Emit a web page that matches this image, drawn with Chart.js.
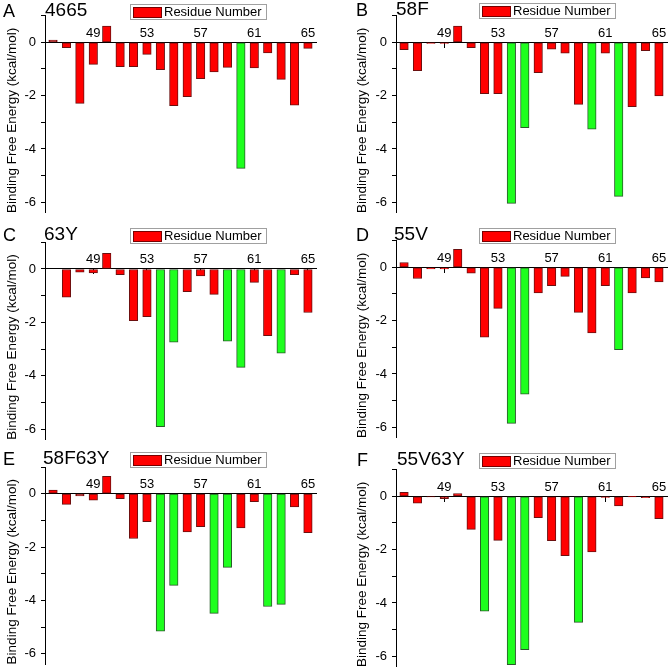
<!DOCTYPE html>
<html>
<head>
<meta charset="utf-8">
<script src="https://cdn.jsdelivr.net/npm/chart.js@4.4.1/dist/chart.umd.min.js"></script>
<style>
  body { margin: 0; background: #fff; font-family: "Liberation Sans", Arial, sans-serif; }
  #wrap { position: relative; width: 668px; height: 671px; overflow: hidden; }
  canvas { position: absolute; }
  .lbl { position: absolute; font-size: 18px; line-height: 18px; color: #000; white-space: nowrap; }
  .ttl { font-size: 19px; }
  .legend { position: absolute; width: 135px; height: 14px; border: 1px solid #a0a0a0; background: #fff; font-size: 13px; line-height: 14px; white-space: nowrap; }
  .legend span.sw { position: absolute; left: 2px; top: 2px; width: 27px; height: 9px; background: #ff0000; border: 1px solid #700; }
  .legend span.tx { position: absolute; left: 33px; top: 0; }
</style>
</head>
<body>
<div id="wrap"></div>
<script>
// residues 46-65, binding free energy per residue (kcal/mol)
const residues = [46, 47, 48, 49, 50, 51, 52, 53, 54, 55, 56, 57, 58, 59, 60, 61, 62, 63, 64, 65];
const xTickValues = [49, 53, 57, 61, 65];
const yTickValues = [-6, -5, -4, -3, -2, -1, 0, 1];
const seriesLabel = 'Residue Number';
const yTitle = 'Binding Free Energy (kcal/mol)';

const energy4665 = [0.08, -0.2, -2.29, -0.83, 0.61, -0.91, -0.91, -0.45, -1.03, -2.38, -2.04, -1.36, -1.11, -0.94, -4.73, -0.96, -0.4, -1.39, -2.36, -0.23];
const hot4665 = [60];

const energy58F = [-0.28, -1.06, -0.04, -0.04, 0.61, -0.2, -1.93, -1.93, -6.04, -3.2, -1.14, -0.26, -0.41, -2.33, -3.26, -0.41, -5.78, -2.41, -0.31, -2.01];
const hot58F = [54, 55, 60, 62];

const energy63Y = [0, -1.06, -0.12, -0.15, 0.59, -0.21, -1.94, -1.79, -5.91, -2.74, -0.85, -0.26, -0.95, -2.71, -3.69, -0.5, -2.5, -3.16, -0.21, -1.63];
const hot63Y = [54, 55, 59, 60, 63];

const energy55V = [0.18, -0.42, -0.06, -0.06, 0.67, -0.22, -2.62, -1.54, -5.85, -4.76, -0.96, -0.69, -0.34, -1.69, -2.46, -0.69, -3.09, -0.96, -0.4, -0.55];
const hot55V = [54, 55, 62];

const energy58F63Y = [0.14, -0.4, -0.08, -0.24, 0.65, -0.19, -1.68, -1.05, -5.15, -3.44, -1.43, -1.24, -4.49, -2.76, -1.28, -0.3, -4.23, -4.15, -0.5, -1.46];
const hot58F63Y = [54, 55, 58, 59, 62, 63];

const energy55V63Y = [0.15, -0.26, -0.02, -0.09, 0.1, -1.24, -4.31, -1.65, -6.31, -5.75, -0.8, -1.66, -2.23, -4.73, -2.09, -0.04, -0.36, -0.01, -0.05, -0.84];
const hot55V63Y = [52, 54, 55, 59];

const X_MIN = 45.4, X_MAX = 65.6, Y_MIN = -6.4, Y_MAX = 1;
const UNIT = 26.67;       // px per kcal/mol
const PLOT_W = 271;       // px width of plot area

const panels = [
  { letter: 'A', title: '4665',   values: energy4665,   hot: hot4665,   x: 0,   y: 0,   w: 334, h: 224, axisW: 45, zero: 42.3, lx: 3,   tx: 45,  ly: 2 },
  { letter: 'B', title: '58F',    values: energy58F,    hot: hot58F,    x: 350, y: 0,   w: 318, h: 224, axisW: 46, zero: 42.3, lx: 356, tx: 396, ly: 1 },
  { letter: 'C', title: '63Y',    values: energy63Y,    hot: hot63Y,    x: 0,   y: 224, w: 334, h: 224, axisW: 45, zero: 45,   lx: 3,   tx: 44,  ly: 226 },
  { letter: 'D', title: '55V',    values: energy55V,    hot: hot55V,    x: 350, y: 224, w: 318, h: 224, axisW: 46, zero: 43.3, lx: 356, tx: 394, ly: 226 },
  { letter: 'E', title: '58F63Y', values: energy58F63Y, hot: hot58F63Y, x: 0,   y: 448, w: 334, h: 223, axisW: 45, zero: 45.7, lx: 3,   tx: 43,  ly: 450 },
  { letter: 'F', title: '55V63Y', values: energy55V63Y, hot: hot55V63Y, x: 350, y: 448, w: 318, h: 223, axisW: 46, zero: 48.3, lx: 357, tx: 397, ly: 451 }
];

const wrap = document.getElementById('wrap');

panels.forEach(p => {
  const canvas = document.createElement('canvas');
  canvas.width = p.w;
  canvas.height = p.h;
  canvas.style.left = p.x + 'px';
  canvas.style.top = p.y + 'px';
  wrap.appendChild(canvas);

  const letter = document.createElement('div');
  letter.className = 'lbl';
  letter.textContent = p.letter;
  letter.style.left = p.lx + 'px';
  letter.style.top = p.ly + 'px';
  wrap.appendChild(letter);

  const title = document.createElement('div');
  title.className = 'lbl ttl';
  title.textContent = p.title;
  title.style.left = p.tx + 'px';
  title.style.top = (p.ly - 1) + 'px';
  wrap.appendChild(title);

  const legend = document.createElement('div');
  legend.className = 'legend';
  legend.innerHTML = '<span class="sw"></span><span class="tx">' + seriesLabel + '</span>';
  legend.style.left = (p.x === 0 ? 130 : 479) + 'px';
  legend.style.top = (p.ly + 2) + 'px';
  wrap.appendChild(legend);

  const plotLeft = p.axisW;
  const padRight = p.w - plotLeft - PLOT_W;
  const padTop = p.zero - Y_MAX * UNIT;
  const padBottom = p.h - (p.zero - Y_MIN * UNIT);

  new Chart(canvas, {
    type: 'bar',
    data: {
      datasets: [{
        label: seriesLabel,
        data: residues.map((r, i) => ({ x: r, y: p.values[i] })),
        backgroundColor: residues.map(r => p.hot.includes(r) ? '#1eff1e' : '#ff0000'),
        borderColor: residues.map(r => p.hot.includes(r) ? '#2a5a2a' : '#6a1010'),
        borderWidth: 1,
        borderSkipped: false,
        barThickness: 8.5
      }]
    },
    options: {
      responsive: false,
      animation: false,
      layout: { padding: { top: padTop, bottom: padBottom, left: 0, right: padRight } },
      plugins: { legend: { display: false }, tooltip: { enabled: false } },
      scales: {
        x: {
          type: 'linear',
          min: X_MIN,
          max: X_MAX,
          offset: false,
          position: { y: 0 },
          grid: { drawOnChartArea: false, offset: false, tickLength: 5, color: '#000' },
          border: { color: '#000', width: 1 },
          ticks: { color: '#000', padding: -22, font: { size: 13, family: 'Liberation Sans, Arial' } },
          afterBuildTicks: s => { s.ticks = xTickValues.map(v => ({ value: v })); },
          afterFit: s => { s.paddingLeft = 0; s.paddingRight = 0; }
        },
        y: {
          min: Y_MIN,
          max: Y_MAX,
          grid: { drawOnChartArea: false, tickLength: 4, color: '#000' },
          border: { color: '#000', width: 1 },
          ticks: {
            color: '#000',
            padding: 5,
            font: { size: 13, family: 'Liberation Sans, Arial' },
            callback: v => (v % 2 === 0 ? v : '')
          },
          title: {
            display: true,
            text: yTitle,
            align: 'start',
            color: '#000',
            font: { size: 13.5, family: 'Liberation Sans, Arial' },
            padding: { top: 4, bottom: 0 }
          },
          afterBuildTicks: s => { s.ticks = yTickValues.map(v => ({ value: v })); },
          afterFit: s => { s.width = p.axisW; s.paddingTop = 0; s.paddingBottom = 0; }
        }
      }
    }
  });
});
</script>
</body>
</html>
